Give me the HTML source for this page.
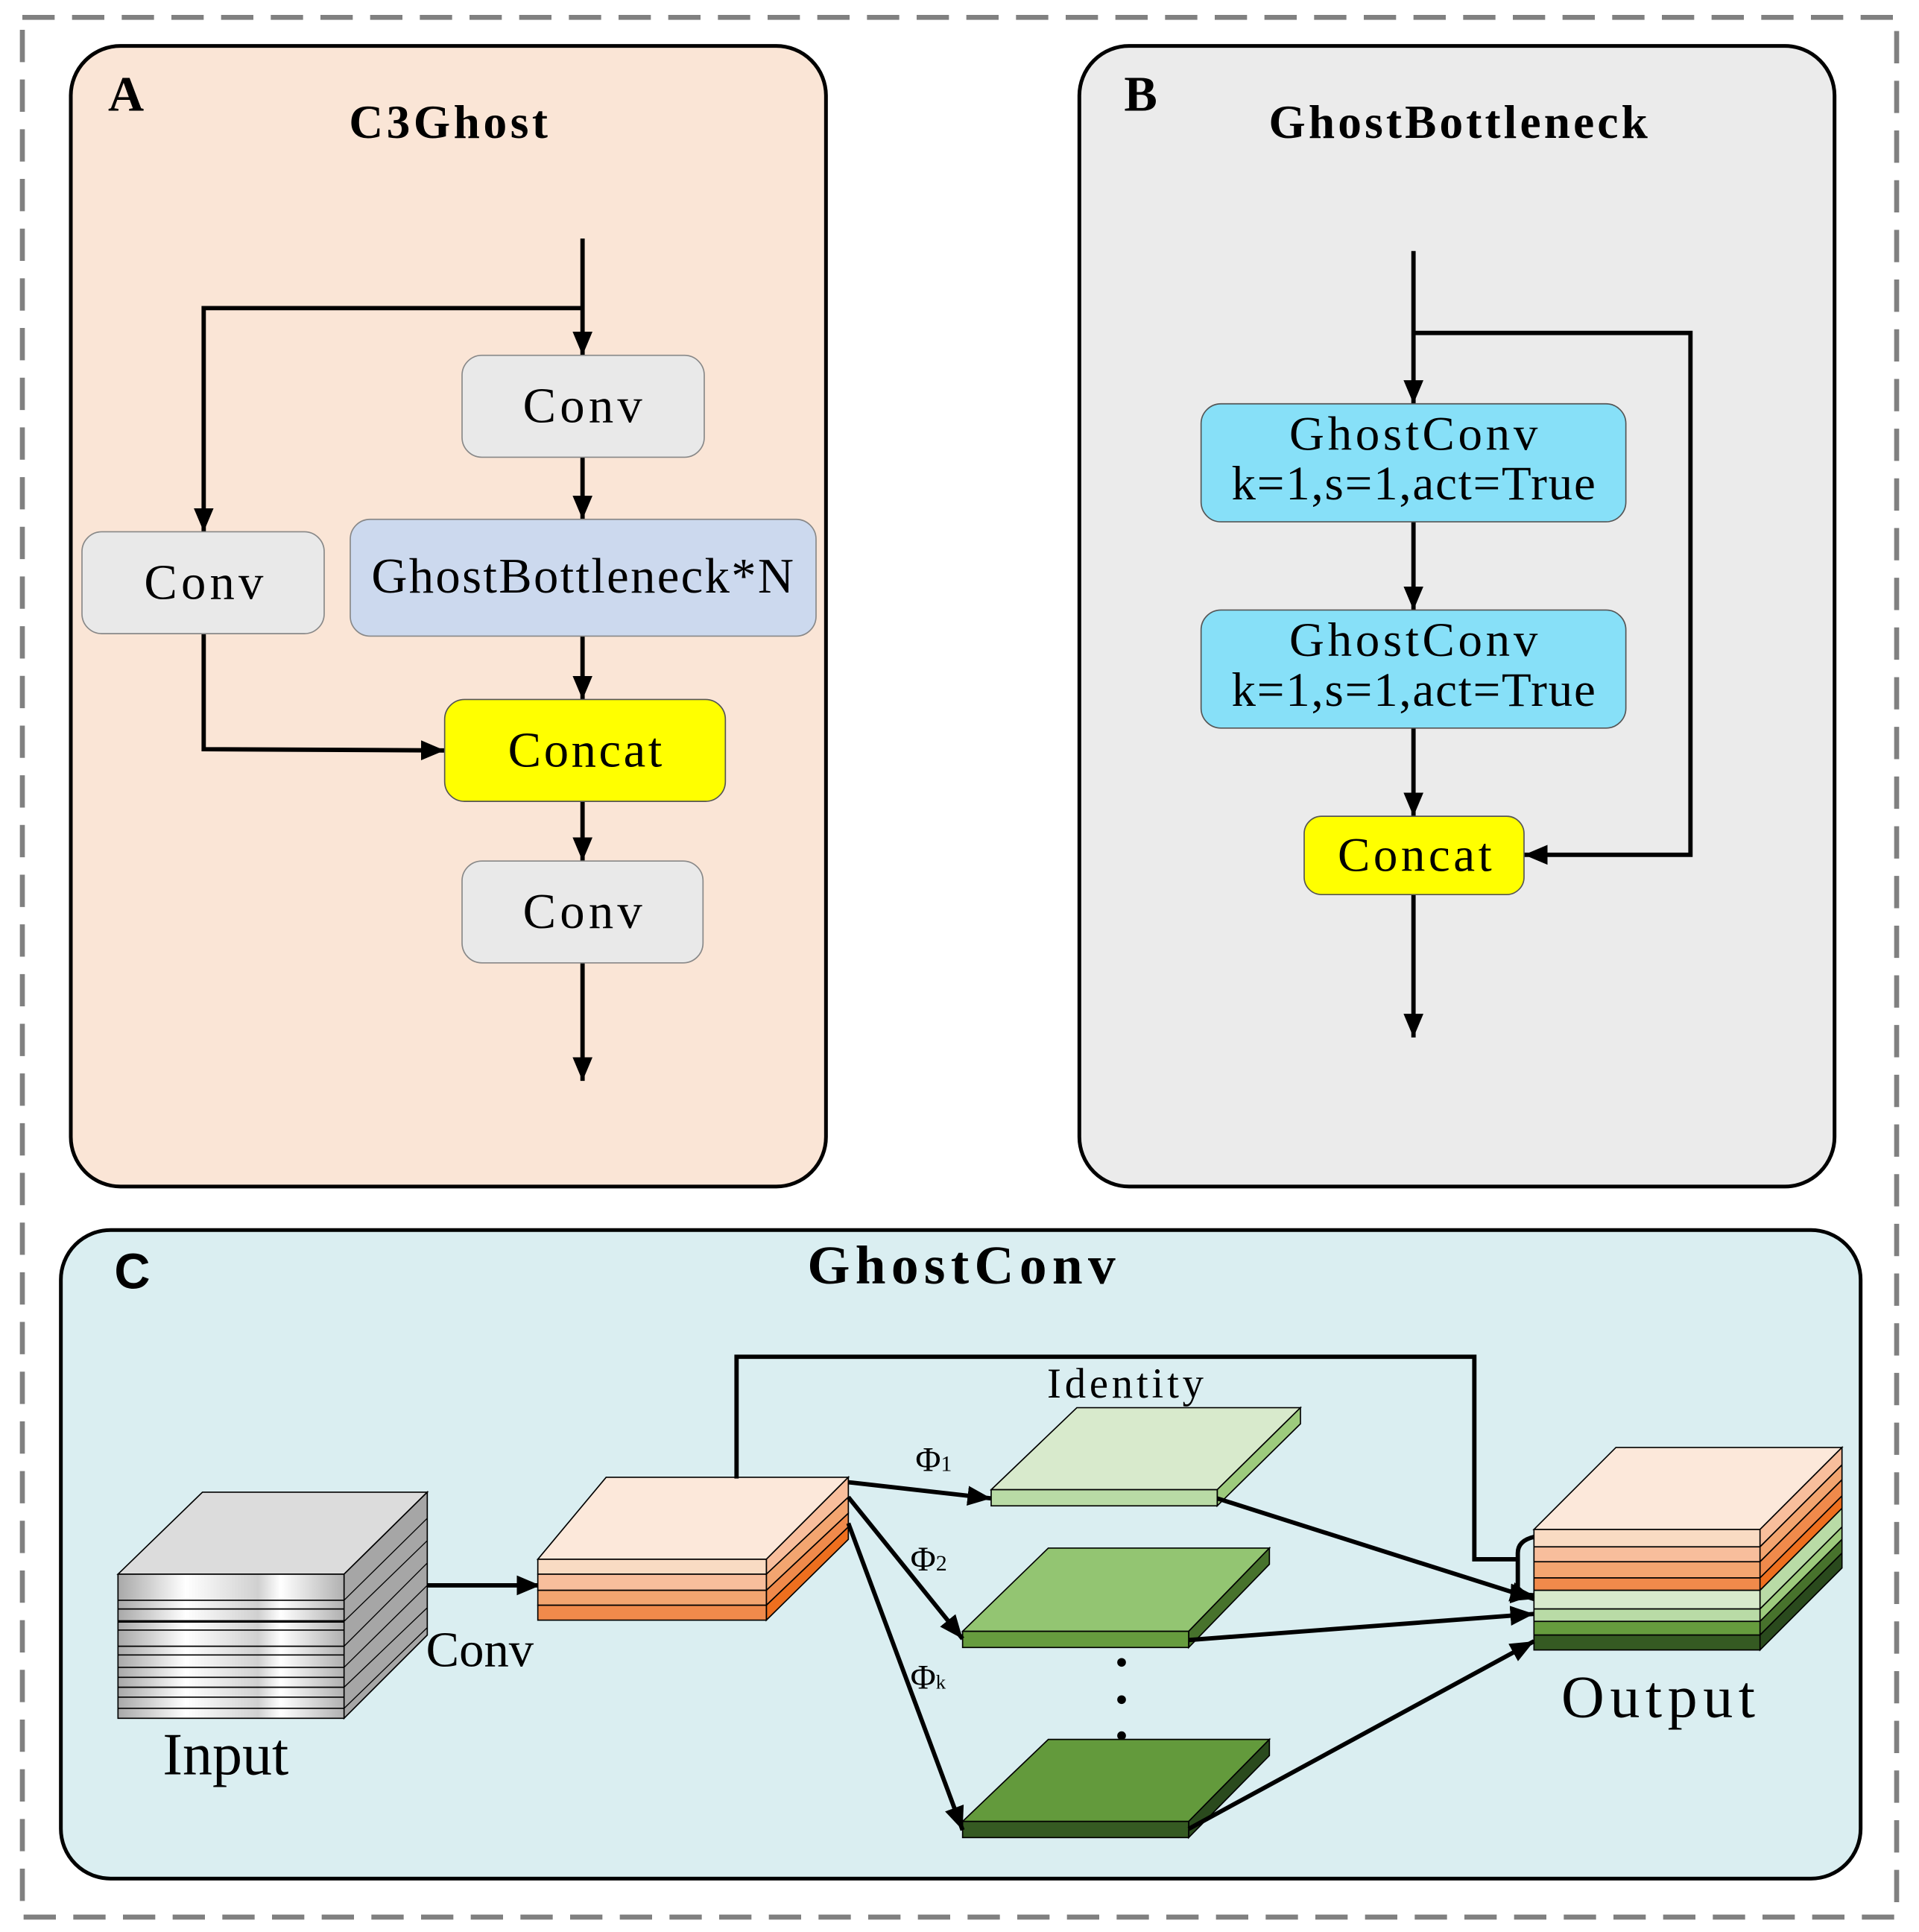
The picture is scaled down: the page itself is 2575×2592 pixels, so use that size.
<!DOCTYPE html>
<html><head><meta charset="utf-8"><style>html,body{margin:0;padding:0;background:#fff}svg{display:block}</style></head>
<body>
<svg xmlns="http://www.w3.org/2000/svg" width="2575" height="2592" viewBox="0 0 1545 1555" preserveAspectRatio="none" font-family="'Liberation Serif', serif">
<defs>
<marker id="ah" markerUnits="userSpaceOnUse" markerWidth="22" markerHeight="18" refX="19" refY="9" orient="auto">
<path d="M0,1 L19,9 L0,17 Z" fill="#000"/></marker>
<linearGradient id="gg" x1="0" x2="1" y1="0" y2="0">
<stop offset="0" stop-color="#a8a8a8"/><stop offset="0.3" stop-color="#fff"/><stop offset="0.62" stop-color="#d0d0d0"/><stop offset="0.72" stop-color="#fff"/><stop offset="1" stop-color="#b0b0b0"/></linearGradient>
</defs>
<rect x="0" y="0" width="1545" height="1555" fill="#fff"/>
<rect x="18" y="14" width="1509" height="1529" fill="none" stroke="#808080" stroke-width="4" stroke-dasharray="26,14"/>

<!-- Panel A -->
<rect x="57" y="37" width="608" height="918" rx="40" fill="#FAE5D6" stroke="#000" stroke-width="3"/>
<text x="87" y="89" font-size="40" font-weight="bold">A</text>
<text x="361" y="111" font-size="38" font-weight="bold" text-anchor="middle" textLength="160">C3Ghost</text>
<g stroke="#000" stroke-width="3.5" fill="none">
<line x1="469" y1="192" x2="469" y2="286" marker-end="url(#ah)"/>
<polyline points="469,248 164,248 164,428" marker-end="url(#ah)"/>
<line x1="469" y1="368" x2="469" y2="418" marker-end="url(#ah)"/>
<line x1="469" y1="512" x2="469" y2="563" marker-end="url(#ah)"/>
<polyline points="164,510 164,603 358,604" marker-end="url(#ah)"/>
<line x1="469" y1="645" x2="469" y2="693" marker-end="url(#ah)"/>
<line x1="469" y1="775" x2="469" y2="870" marker-end="url(#ah)"/>
</g>
<g stroke="#888" stroke-width="1">
<rect x="372" y="286" width="195" height="82" rx="16" fill="#E9E9E9"/>
<rect x="66" y="428" width="195" height="82" rx="16" fill="#E9E9E9"/>
<rect x="282" y="418" width="375" height="94" rx="16" fill="#CCD9EE"/>
<rect x="358" y="563" width="226" height="82" rx="16" fill="#FFFF00" stroke="#555"/>
<rect x="372" y="693" width="194" height="82" rx="16" fill="#E9E9E9"/>
</g>
<g font-size="40" text-anchor="middle">
<text x="469" y="340" textLength="96">Conv</text>
<text x="164" y="482" textLength="96">Conv</text>
<text x="469" y="477" textLength="340">GhostBottleneck*N</text>
<text x="471" y="617" textLength="124">Concat</text>
<text x="469" y="747" textLength="96">Conv</text>
</g>

<!-- Panel B -->
<rect x="869" y="37" width="608" height="918" rx="40" fill="#EBEBEB" stroke="#000" stroke-width="3"/>
<text x="905" y="89" font-size="40" font-weight="bold">B</text>
<text x="1174" y="111" font-size="38" font-weight="bold" text-anchor="middle" textLength="305">GhostBottleneck</text>
<g stroke="#000" stroke-width="3.5" fill="none">
<line x1="1138" y1="202" x2="1138" y2="325" marker-end="url(#ah)"/>
<polyline points="1138,268 1361,268 1361,688 1227,688" marker-end="url(#ah)"/>
<line x1="1138" y1="420" x2="1138" y2="491" marker-end="url(#ah)"/>
<line x1="1138" y1="586" x2="1138" y2="657" marker-end="url(#ah)"/>
<line x1="1138" y1="720" x2="1138" y2="835" marker-end="url(#ah)"/>
</g>
<g stroke="#555" stroke-width="1">
<rect x="967" y="325" width="342" height="95" rx="16" fill="#87E0F8"/>
<rect x="967" y="491" width="342" height="95" rx="16" fill="#87E0F8"/>
<rect x="1050" y="657" width="177" height="63" rx="14" fill="#FFFF00"/>
</g>
<g font-size="39" text-anchor="middle">
<text x="1138" y="362" textLength="200">GhostConv</text>
<text x="1138" y="402" textLength="293">k=1,s=1,act=True</text>
<text x="1138" y="528" textLength="200">GhostConv</text>
<text x="1138" y="568" textLength="293">k=1,s=1,act=True</text>
<text x="1139" y="701" textLength="124">Concat</text>
</g>

<!-- Panel C -->
<rect x="49" y="990" width="1449" height="522" rx="40" fill="#DAEEF1" stroke="#000" stroke-width="3"/>
<text x="92" y="1037" font-size="40" font-weight="bold" font-family="'Liberation Sans', sans-serif">C</text>
<text x="774" y="1033" font-size="44" font-weight="bold" text-anchor="middle" textLength="248">GhostConv</text>

<!-- Input stack -->
<g stroke="#000" stroke-width="1">
<polygon points="95,1267 163,1201 344,1201 277,1267" fill="#DCDCDC"/>
<polygon points="277,1267 344,1201 344,1316 277,1383" fill="#A6A6A6"/>
<rect x="95" y="1267" width="182" height="116" fill="url(#gg)"/>
</g>
<g stroke="#000" stroke-width="1">
<line x1="95" y1="1288" x2="277" y2="1288"/><line x1="95" y1="1305" x2="277" y2="1305" stroke-width="2"/>
<line x1="95" y1="1325" x2="277" y2="1325"/><line x1="95" y1="1342" x2="277" y2="1342"/>
<line x1="95" y1="1358" x2="277" y2="1358"/><line x1="95" y1="1375" x2="277" y2="1375"/>
<line x1="95" y1="1295" x2="277" y2="1295"/><line x1="95" y1="1312" x2="277" y2="1312"/>
<line x1="95" y1="1332" x2="277" y2="1332"/><line x1="95" y1="1350" x2="277" y2="1350"/><line x1="95" y1="1366" x2="277" y2="1366"/>
</g>
<g stroke="#000" stroke-width="0.8">
<line x1="277" y1="1288" x2="344" y2="1222"/><line x1="277" y1="1305" x2="344" y2="1240"/>
<line x1="277" y1="1325" x2="344" y2="1258"/><line x1="277" y1="1342" x2="344" y2="1276"/>
<line x1="277" y1="1358" x2="344" y2="1294"/><line x1="277" y1="1375" x2="344" y2="1310"/>
</g>
<text x="131" y="1428" font-size="48">Input</text>
<line x1="344" y1="1276" x2="435" y2="1276" stroke="#000" stroke-width="3.5" marker-end="url(#ah)"/>
<text x="343" y="1341" font-size="40">Conv</text>

<!-- Orange block -->
<g stroke="#000" stroke-width="1">
<polygon points="433,1255 488,1189 683,1189 617,1255" fill="#FCE8DA"/>
<polygon points="617,1255 683,1189 683,1205 617,1267" fill="#F8BE9C"/>
<polygon points="617,1267 683,1205 683,1218 617,1280" fill="#F3A570"/>
<polygon points="617,1280 683,1218 683,1229 617,1292" fill="#F08A4B"/>
<polygon points="617,1292 683,1229 683,1239 617,1304" fill="#EE6F1E"/>
<rect x="433" y="1255" width="184" height="12" fill="#F9DBC3"/>
<rect x="433" y="1267" width="184" height="13" fill="#F8BE9C"/>
<rect x="433" y="1280" width="184" height="12" fill="#F3A570"/>
<rect x="433" y="1292" width="184" height="12" fill="#F08A4B"/>
</g>

<!-- Green plates -->
<g stroke="#000" stroke-width="1">
<polygon points="798,1199 867,1133 1047,1133 980,1199" fill="#D8EACC"/>
<polygon points="980,1199 1047,1133 1047,1146 980,1212" fill="#9DCB7D"/>
<rect x="798" y="1199" width="182" height="13" fill="#B9DBA6"/>
<polygon points="775,1313 844,1246 1022,1246 957,1313" fill="#93C572"/>
<polygon points="957,1313 1022,1246 1022,1259 957,1326" fill="#47722C"/>
<rect x="775" y="1313" width="182" height="13" fill="#669C3E"/>
<polygon points="775,1466 844,1400 1022,1400 957,1466" fill="#639A3C"/>
<polygon points="957,1466 1022,1400 1022,1413 957,1479" fill="#2A4A1D"/>
<rect x="775" y="1466" width="182" height="13" fill="#355A22"/>
</g>
<g fill="#000"><circle cx="903" cy="1338" r="3.5"/><circle cx="903" cy="1368" r="3.5"/><circle cx="903" cy="1397" r="3.5"/></g>
<text x="843" y="1125" font-size="34" textLength="126">Identity</text>
<text x="737" y="1184" font-size="28">Φ<tspan font-size="18">1</tspan></text>
<text x="733" y="1264" font-size="28">Φ<tspan font-size="18">2</tspan></text>
<text x="733" y="1359" font-size="28">Φ<tspan font-size="16">k</tspan></text>

<!-- Output stack -->
<g stroke="#000" stroke-width="1">
<polygon points="1235,1231 1301,1165 1483,1165 1417,1231" fill="#FCE8DA"/>
<polygon points="1417,1231 1483,1165 1483,1179 1417,1245" fill="#F8BE9C"/>
<polygon points="1417,1245 1483,1179 1483,1191 1417,1257" fill="#F3A570"/>
<polygon points="1417,1257 1483,1191 1483,1204 1417,1270" fill="#F08A4B"/>
<polygon points="1417,1270 1483,1204 1483,1214 1417,1280" fill="#EE6F1E"/>
<polygon points="1417,1280 1483,1214 1483,1229 1417,1295" fill="#B9DBA6"/>
<polygon points="1417,1295 1483,1229 1483,1239 1417,1305" fill="#9DCB7D"/>
<polygon points="1417,1305 1483,1239 1483,1250 1417,1316" fill="#47722C"/>
<polygon points="1417,1316 1483,1250 1483,1262 1417,1328" fill="#2A4A1D"/>
<rect x="1235" y="1231" width="182" height="14" fill="#F9DBC3"/>
<rect x="1235" y="1245" width="182" height="12" fill="#F8BE9C"/>
<rect x="1235" y="1257" width="182" height="13" fill="#F3A570"/>
<rect x="1235" y="1270" width="182" height="10" fill="#F08A4B"/>
<rect x="1235" y="1280" width="182" height="15" fill="#D8EACC"/>
<rect x="1235" y="1295" width="182" height="10" fill="#B9DBA6"/>
<rect x="1235" y="1305" width="182" height="11" fill="#669C3E"/>
<rect x="1235" y="1316" width="182" height="12" fill="#355A22"/>
</g>
<text x="1257" y="1382" font-size="48" textLength="156">Output</text>

<!-- Connectors C -->
<g stroke="#000" stroke-width="3.5" fill="none">
<path d="M593,1190 V1092 H1187 V1255 H1222"/>
<path d="M1235,1237 Q1222,1240 1222,1250 V1283 L1235,1284" marker-end="url(#ah)"/>
<line x1="683" y1="1193" x2="798" y2="1206" marker-end="url(#ah)"/>
<line x1="683" y1="1205" x2="775" y2="1319" marker-end="url(#ah)"/>
<line x1="683" y1="1226" x2="775" y2="1473" marker-end="url(#ah)"/>
<line x1="980" y1="1206" x2="1235" y2="1287" marker-end="url(#ah)"/>
<line x1="957" y1="1320" x2="1235" y2="1299" marker-end="url(#ah)"/>
<line x1="957" y1="1472" x2="1235" y2="1321" marker-end="url(#ah)"/>
</g>
</svg>
</body></html>
